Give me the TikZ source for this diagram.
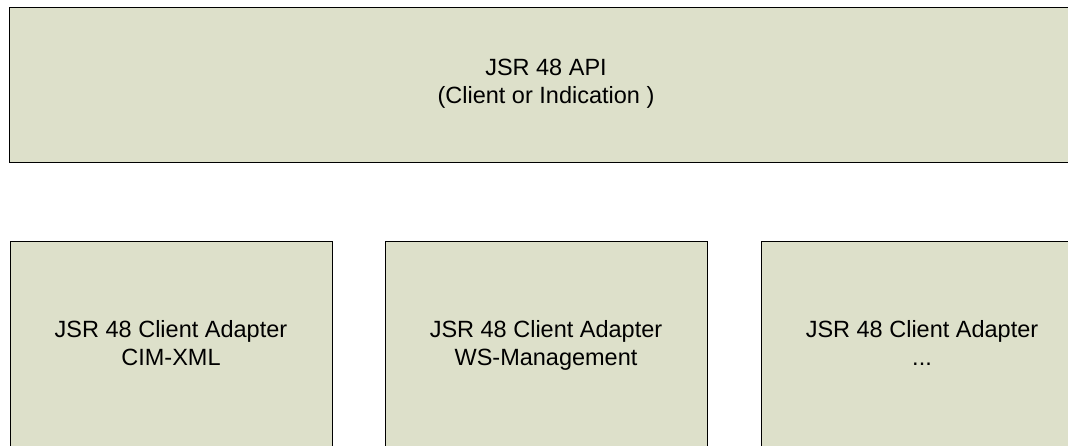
\documentclass[tikz,border=0pt]{standalone}
\usepackage{fontspec}
\setmainfont{Liberation Sans}
\usetikzlibrary{calc}
\definecolor{layerfill}{RGB}{221,224,202}

\begin{document}
\begin{tikzpicture}[x=1pt, y=1pt,
    layer/.style={draw, line width=1pt, fill=layerfill, align=center, inner sep=0pt,
        font=\fontsize{23.5}{28}\selectfont,
        execute at begin node=\strut, execute at end node=\strut}]
    \clip (0, 0) rectangle (1068, 445);
    \node [layer, minimum width=1074pt, minimum height=155pt,
        execute at begin node={\rule{0pt}{25.6pt}}] (API) at (546, 360) {JSR 48 API\\(Client or Indication )};
        \node [layer, minimum width=322pt, minimum height=212pt] (WSM) at ($(API) + (0, -262.5)$) {JSR 48 Client Adapter\\WS-Management};
        \node [layer, minimum width=322pt, minimum height=212pt] (CIMXML) at ($(WSM) + (-375, 0)$) {JSR 48 Client Adapter\\CIM-XML};
        \node [layer, minimum width=322pt, minimum height=212pt] (MORE) at ($(WSM) + (376, 0)$) {JSR 48 Client Adapter\\...};
\end{tikzpicture}
\end{document}
